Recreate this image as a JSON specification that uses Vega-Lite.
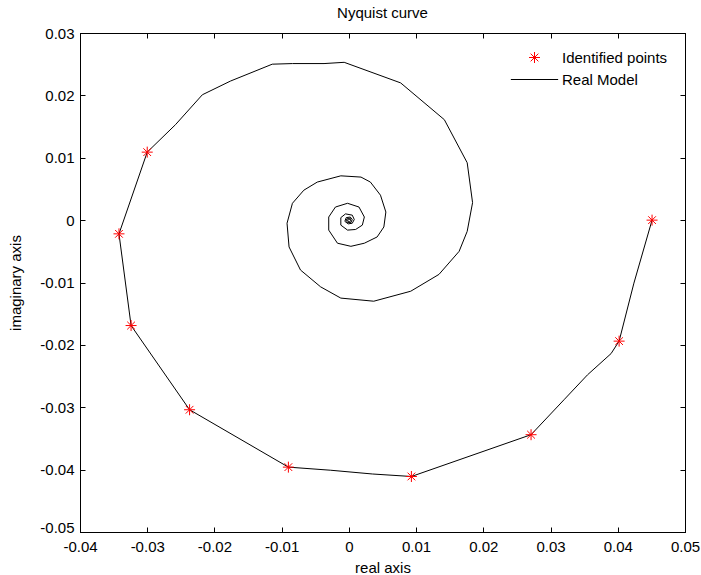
{
  "$schema": "https://vega.github.io/schema/vega-lite/v6.json",
  "width": 605,
  "height": 499,
  "autosize": "none",
  "padding": {"left": 80, "top": 33, "right": 16, "bottom": 43},
  "background": "white",
  "title": {"text": "Nyquist curve", "fontSize": 15, "fontWeight": "normal", "font": "Liberation Sans", "color": "black", "offset": 5},
  "config": {
    "view": {"stroke": "black", "strokeWidth": 1},
    "axis": {
      "grid": false,
      "domainColor": "black",
      "tickColor": "black",
      "labelColor": "black",
      "titleColor": "black",
      "labelFont": "Liberation Sans",
      "titleFont": "Liberation Sans",
      "labelFontSize": 15,
      "titleFontSize": 15,
      "titleFontWeight": "normal",
      "tickSize": -5,
      "labelFlush": false,
      "labelOverlap": false
    },
    "legend": {"labelFont": "Liberation Sans", "labelFontSize": 15, "labelColor": "black"}
  },
  "datasets": {
    "model": [
      {"re": 0.0451, "im": 0.0000}, {"re": 0.0424, "im": -0.0101}, {"re": 0.0402, "im": -0.0194},
      {"re": 0.0390, "im": -0.0214}, {"re": 0.0355, "im": -0.0248}, {"re": 0.0320, "im": -0.0288},
      {"re": 0.0271, "im": -0.0344}, {"re": 0.0093, "im": -0.0411}, {"re": 0.0035, "im": -0.0407},
      {"re": -0.0027, "im": -0.0401}, {"re": -0.0090, "im": -0.0396}, {"re": -0.0237, "im": -0.0304},
      {"re": -0.0324, "im": -0.0169}, {"re": -0.0342, "im": -0.0022}, {"re": -0.0300, "im": 0.0109},
      {"re": -0.0258, "im": 0.0153}, {"re": -0.0218, "im": 0.0201}, {"re": -0.0176, "im": 0.0223},
      {"re": -0.0114, "im": 0.0250}, {"re": -0.0084, "im": 0.0251}, {"re": -0.0037, "im": 0.0251},
      {"re": -0.0007, "im": 0.0253}, {"re": 0.0077, "im": 0.0220}, {"re": 0.0142, "im": 0.0161},
      {"re": 0.0176, "im": 0.0092}, {"re": 0.0184, "im": 0.0028}, {"re": 0.0176, "im": -0.0018},
      {"re": 0.0164, "im": -0.0050}, {"re": 0.0134, "im": -0.0087}, {"re": 0.0092, "im": -0.0114},
      {"re": 0.0037, "im": -0.0130}, {"re": -0.0012, "im": -0.0125}, {"re": -0.0042, "im": -0.0107},
      {"re": -0.0072, "im": -0.0080}, {"re": -0.0089, "im": -0.0043}, {"re": -0.0092, "im": -0.0005},
      {"re": -0.0084, "im": 0.0027}, {"re": -0.0067, "im": 0.0048}, {"re": -0.0047, "im": 0.0061},
      {"re": -0.0012, "im": 0.0071}, {"re": 0.0018, "im": 0.0069}, {"re": 0.0032, "im": 0.0061},
      {"re": 0.0047, "im": 0.0040}, {"re": 0.0055, "im": 0.0013}, {"re": 0.0052, "im": -0.0011},
      {"re": 0.0042, "im": -0.0027}, {"re": 0.0023, "im": -0.0037}, {"re": 0.0003, "im": -0.0042},
      {"re": -0.0017, "im": -0.0037}, {"re": -0.0030, "im": -0.0016}, {"re": -0.0030, "im": 0.0005},
      {"re": -0.0020, "im": 0.0021}, {"re": -0.0002, "im": 0.0027}, {"re": 0.0015, "im": 0.0021},
      {"re": 0.0023, "im": 0.0005}, {"re": 0.0020, "im": -0.0008}, {"re": 0.0010, "im": -0.0015},
      {"re": -0.0002, "im": -0.0016}, {"re": -0.0012, "im": -0.0008}, {"re": -0.0012, "im": 0.0004},
      {"re": -0.0005, "im": 0.0010}, {"re": 0.0005, "im": 0.0008}, {"re": 0.0008, "im": 0.0001},
      {"re": 0.0005, "im": -0.0005}, {"re": -0.0001, "im": -0.0006}, {"re": -0.0006, "im": -0.0002},
      {"re": -0.0004, "im": 0.0004}, {"re": 0.0002, "im": 0.0005}, {"re": 0.0005, "im": 0.0001},
      {"re": 0.0003, "im": -0.0004}, {"re": -0.0002, "im": -0.0004}, {"re": -0.0004, "im": 0.0000},
      {"re": -0.0002, "im": 0.0003}, {"re": 0.0002, "im": 0.0003}, {"re": 0.0003, "im": 0.0000},
      {"re": 0.0001, "im": -0.0003}, {"re": -0.0002, "im": -0.0001}, {"re": -0.0001, "im": 0.0002},
      {"re": 0.0001, "im": 0.0001}, {"re": 0.0000, "im": 0.0000}
    ],
    "points": [
      {"re": 0.0451, "im": 0.0000, "series": "Identified points"},
      {"re": 0.0402, "im": -0.0194, "series": "Identified points"},
      {"re": 0.0271, "im": -0.0344, "series": "Identified points"},
      {"re": 0.0093, "im": -0.0411, "series": "Identified points"},
      {"re": -0.0090, "im": -0.0396, "series": "Identified points"},
      {"re": -0.0237, "im": -0.0304, "series": "Identified points"},
      {"re": -0.0324, "im": -0.0169, "series": "Identified points"},
      {"re": -0.0342, "im": -0.0022, "series": "Identified points"},
      {"re": -0.0300, "im": 0.0109, "series": "Identified points"}
    ]
  },
  "layer": [
    {
      "data": {"name": "model"},
      "mark": {"type": "line", "color": "black", "strokeWidth": 1},
      "encoding": {
        "x": {"field": "re", "type": "quantitative",
              "scale": {"domain": [-0.04, 0.05], "nice": false, "zero": false},
              "axis": {"orient": "bottom", "title": "real axis", "values": [-0.04, -0.03, -0.02, -0.01, 0, 0.01, 0.02, 0.03, 0.04, 0.05],
                       "labelExpr": "toString(round(datum.value*100)/100)", "labelPadding": 12, "titlePadding": 6}},
        "y": {"field": "im", "type": "quantitative",
              "scale": {"domain": [-0.05, 0.03], "nice": false, "zero": false},
              "axis": {"orient": "left", "title": "imaginary axis", "values": [-0.05, -0.04, -0.03, -0.02, -0.01, 0, 0.01, 0.02, 0.03],
                       "labelExpr": "toString(round(datum.value*100)/100)", "labelPadding": 11, "titlePadding": 16,
                       "labelBaseline": {"condition": {"test": "datum.value < -0.045", "value": "alphabetic"}, "value": "middle"}}},
        "order": {"value": null}
      }
    },
    {
      "data": {"name": "points"},
      "mark": {"type": "point", "filled": false, "strokeWidth": 1, "size": 121, "opacity": 1},
      "encoding": {
        "x": {"field": "re", "type": "quantitative",
              "axis": {"orient": "top", "title": null, "labels": false, "values": [-0.04, -0.03, -0.02, -0.01, 0, 0.01, 0.02, 0.03, 0.04, 0.05]}},
        "y": {"field": "im", "type": "quantitative",
              "axis": {"orient": "right", "title": null, "labels": false, "values": [-0.05, -0.04, -0.03, -0.02, -0.01, 0, 0.01, 0.02, 0.03]}},
        "color": {"field": "series", "type": "nominal",
                  "scale": {"domain": ["Identified points", "Real Model"], "range": ["#ff0000", "#000000"]},
                  "legend": {"title": null, "orient": "none", "legendX": 447, "legendY": 17, "labelOffset": 20, "rowPadding": 6, "symbolStrokeWidth": 1, "symbolSize": 121}},
        "shape": {"field": "series", "type": "nominal",
                  "scale": {"domain": ["Identified points", "Real Model"], "range": ["M-1,0L1,0M0,-1L0,1M-0.7,-0.7L0.7,0.7M-0.7,0.7L0.7,-0.7", "M-4.3,0L4.3,0"]},
                  "legend": {"title": null, "orient": "none", "legendX": 447, "legendY": 17, "labelOffset": 20, "rowPadding": 6, "symbolStrokeWidth": 1, "symbolSize": 121}}
      }
    }
  ],
  "resolve": {"axis": {"x": "independent", "y": "independent"}}
}
